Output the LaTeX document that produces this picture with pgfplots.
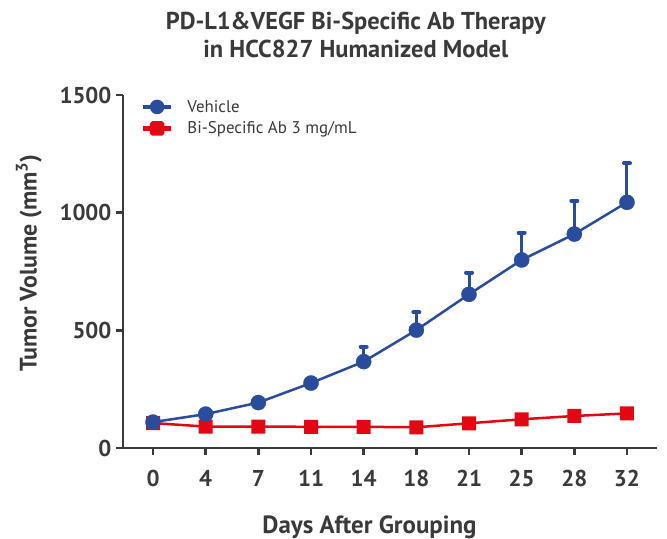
\documentclass[border=0pt]{standalone}
\usepackage{fontspec}
\setmainfont{PT Sans}
\usepackage{pgfplots}
\pgfplotsset{compat=1.18}
\definecolor{vblue}{RGB}{42,76,156}
\definecolor{bred}{RGB}{227,6,19}
\definecolor{txt}{RGB}{58,58,58}
\pgfdeclareplotmark{rsquare*}{%
  \pgfsetcornersarced{\pgfpoint{2bp}{2bp}}%
  \pgfpathmoveto{\pgfpoint{-\pgfplotmarksize}{0pt}}%
  \pgfpathlineto{\pgfpoint{-\pgfplotmarksize}{\pgfplotmarksize}}%
  \pgfpathlineto{\pgfpoint{\pgfplotmarksize}{\pgfplotmarksize}}%
  \pgfpathlineto{\pgfpoint{\pgfplotmarksize}{-\pgfplotmarksize}}%
  \pgfpathlineto{\pgfpoint{-\pgfplotmarksize}{-\pgfplotmarksize}}%
  \pgfpathclose
  \pgfusepathqfill}

\pgfplotstableread{
x y e
0 110 5
1 144 8
2 193 10
3 276 15
4 367 63
5 501 76
6 653 92
7 799 116
8 909 142
9 1044 166
}\vehicle
\pgfplotstableread{
x y
0 106
1 91
2 91
3 90
4 90
5 88
6 105
7 122
8 136
9 147
}\bispec

\begin{document}
\begin{tikzpicture}[x=1bp,y=1bp]
\useasboundingbox (0,0) rectangle (667,539);
\begin{axis}[
  at={(123bp,91bp)}, anchor=south west,
  scale only axis, width=534bp, height=353bp,
  xmin=-0.57, xmax=9.57, ymin=0, ymax=1500,
  axis lines*=left,
  axis line style={line width=2.6bp, color=txt},
  xtick={0,...,9}, xticklabels={0,4,7,11,14,18,21,25,28,32},
  ytick={0,500,1000,1500},
  tick align=outside, major tick length=7bp,
  tick style={line width=2.4bp, color=txt},
  ticklabel style={font=\fontsize{23}{23}\selectfont\bfseries, color=txt},
  xticklabel style={anchor=base, yshift=-32bp},
  yticklabel style={xshift=-1bp},
  /pgf/number format/assume math mode=true,
  /pgf/number format/set thousands separator={},
  clip=false,
  title={PD-L1\&VEGF Bi-Specific Ab Therapy\\in HCC827 Humanized Model},
  title style={align=center, font=\fontsize{24.5}{28}\selectfont\bfseries, color=txt,
    at={(axis description cs:0.436,1.153)}, anchor=center},
  xlabel={Days After Grouping},
  xlabel style={font=\fontsize{25}{25}\selectfont\bfseries, color=txt,
    at={(axis description cs:0.4616,-0.241)}, anchor=base},
  ylabel={Tumor Volume (mm\textsuperscript{3})},
  ylabel style={font=\fontsize{24}{24}\selectfont\bfseries, color=txt,
    at={(axis description cs:-0.176,0.524)}, anchor=center},
  legend style={draw=none, fill=none, at={(0.0275,1.0)}, anchor=north west,
    font=\fontsize{17}{17}\selectfont, text=txt, row sep=2bp,
    nodes={inner sep=3bp}},
  legend cell align=left,
  reverse legend,
]
\addplot[bred, line width=2.5bp, mark=rsquare*, mark size=7bp,
  mark options={solid, fill=bred},
  legend image code/.code={\draw[line width=4.5bp] (0bp,0bp) -- (28bp,0bp);
    \fill[rounded corners=1.5bp] (8bp,-6bp) rectangle (20bp,6bp); \path (40bp,0bp);}]
  table[x=x, y=y] {\bispec};
\addlegendentry{Bi-Specific Ab 3 mg/mL}
\addplot[vblue, line width=2.5bp, mark=*, mark size=7.6bp,
  mark options={solid, fill=vblue, line width=0.3bp},
  legend image code/.code={\draw[line width=4.5bp] (0bp,0bp) -- (28bp,0bp);
    \fill (14bp,0bp) circle (6bp); \path (40bp,0bp);},
  error bars/.cd, y dir=plus, y explicit, error mark=|,
  error bar style={line width=3bp, vblue},
  error mark options={line width=4bp, mark size=3bp, line cap=round, vblue}]
  table[x=x, y=y, y error=e] {\vehicle};
\addlegendentry{Vehicle}
\end{axis}
\end{tikzpicture}
\end{document}
